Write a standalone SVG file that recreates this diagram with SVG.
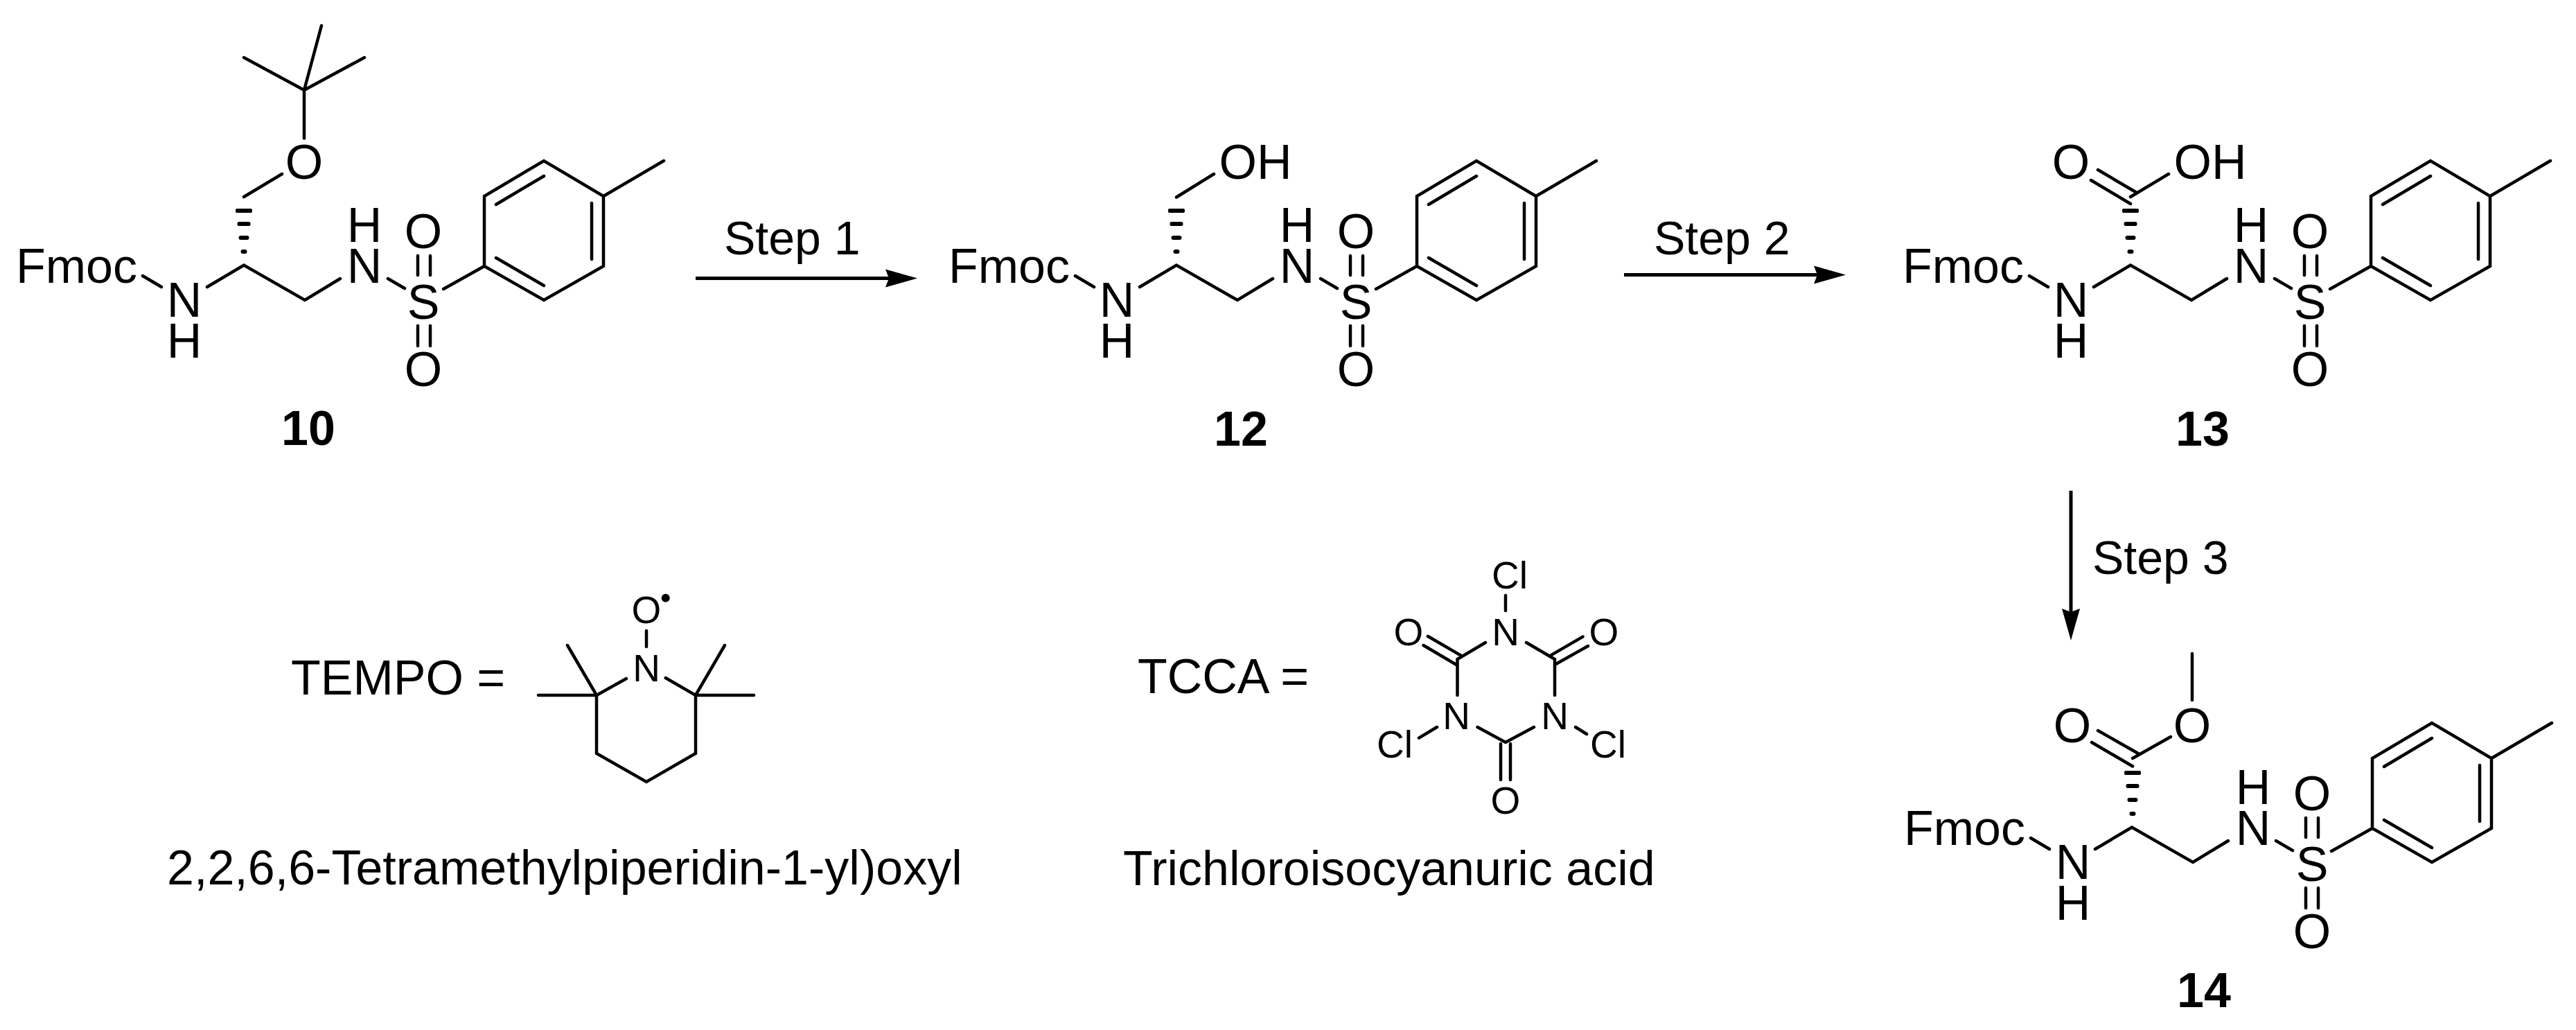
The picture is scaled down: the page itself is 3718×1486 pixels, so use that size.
<svg xmlns="http://www.w3.org/2000/svg" xmlns:xlink="http://www.w3.org/1999/xlink" width="3718" height="1486" viewBox="0 0 3718 1486">
<style>
text{font-family:"Liberation Sans",Arial,sans-serif;fill:#000;font-size:70px}
.m{text-anchor:middle}
.b{font-weight:bold;text-anchor:middle}
.s{font-size:55px}
.step{font-size:68px}
.bond{fill:none;stroke:#000;stroke-width:4.5;stroke-linejoin:miter;stroke-linecap:round}
.arrow{fill:none;stroke:#000;stroke-width:5;marker-end:url(#head)}
</style>
<defs>
<marker id="head" markerUnits="userSpaceOnUse" markerWidth="50" markerHeight="30" refX="5" refY="15" orient="auto"><path d="M46 15L0 2L5 15L0 28Z" fill="#000"/></marker>
<g id="hash" fill="#000"><rect x="-12" y="-81" width="24" height="6" rx="2"/><rect x="-9.500" y="-62" width="19" height="6" rx="2.500"/><rect x="-7.500" y="-42" width="15" height="6" rx="3"/><rect x="-4.500" y="-22" width="9" height="6" rx="3"/></g>
<path id="core" class="bond" d="M206 398L233 414M299 414L352 382.500L440 433L491 402M560 402L584 416M603 369V397M621 369V397M603 470V499M621 470V499M640 417L699 384M699 384V283L785 232L871 283V384L785 433ZM716 295L785 254M854 293V374M716 372L785 412M871 283L958 232"/>
</defs>
<rect width="3718" height="1486" fill="#fff"/>
<g id="connectors">
<line class="arrow" x1="1004" y1="401.500" x2="1283" y2="401.500"/>
<line class="arrow" x1="2344" y1="396.500" x2="2623" y2="396.500"/>
<line class="arrow" x1="2989" y1="708" x2="2989" y2="883"/>
<text class="step" x="1045" y="367">Step 1</text>
<text class="step" x="2387" y="367">Step 2</text>
<text class="step" x="3020" y="828">Step 3</text>
</g>
<g id="compound-10">
<use xlink:href="#core" href="#core"/>
<use xlink:href="#hash" href="#hash" x="352" y="382"/>
<path class="bond" d="M352 284L407 251M439 199.500V130M439 130L464 37M439 130L352 83M439 130L526 83"/>
<text x="23" y="408">Fmoc</text>
<text class="m" x="266" y="457">N</text><text class="m" x="266" y="516">H</text>
<text class="m" x="526" y="408">N</text><text class="m" x="526" y="349">H</text>
<text class="m" x="611" y="460">S</text>
<text class="m" x="611" y="358">O</text><text class="m" x="611" y="557">O</text>
<text class="m" x="439" y="258">O</text>
<text class="b" x="445" y="642">10</text>
</g>
<g id="compound-12">
<use xlink:href="#core" href="#core" x="1346"/>
<use xlink:href="#hash" href="#hash" x="1698" y="382"/>
<path class="bond" d="M1698 284.500L1752 251"/>
<text x="1369" y="408">Fmoc</text>
<text class="m" x="1612" y="457">N</text><text class="m" x="1612" y="516">H</text>
<text class="m" x="1872" y="408">N</text><text class="m" x="1872" y="349">H</text>
<text class="m" x="1957" y="460">S</text>
<text class="m" x="1957" y="358">O</text><text class="m" x="1957" y="557">O</text>
<text x="1759.500" y="258">OH</text>
<text class="b" x="1791" y="643">12</text>
</g>
<g id="compound-13">
<use xlink:href="#core" href="#core" x="2723"/>
<use xlink:href="#hash" href="#hash" x="3075" y="382"/>
<path class="bond" d="M3075 284L3130 251M3018 260L3075 294M3028 245L3084 278"/>
<text x="2746" y="408">Fmoc</text>
<text class="m" x="2989" y="457">N</text><text class="m" x="2989" y="516">H</text>
<text class="m" x="3249" y="408">N</text><text class="m" x="3249" y="349">H</text>
<text class="m" x="3334" y="460">S</text>
<text class="m" x="3334" y="358">O</text><text class="m" x="3334" y="557">O</text>
<text class="m" x="2989" y="258">O</text>
<text x="3137.500" y="258">OH</text>
<text class="b" x="3179" y="643">13</text>
</g>
<g id="compound-14">
<use xlink:href="#core" href="#core" x="2725" y="811"/>
<use xlink:href="#hash" href="#hash" x="3078" y="1193"/>
<path class="bond" d="M3078 1094L3133 1063M3019 1071L3078 1105.500M3028 1054L3086 1087M3164 1010V943"/>
<text x="2748" y="1219">Fmoc</text>
<text class="m" x="2992" y="1268">N</text><text class="m" x="2992" y="1327">H</text>
<text class="m" x="3252" y="1219">N</text><text class="m" x="3252" y="1160">H</text>
<text class="m" x="3337" y="1271">S</text>
<text class="m" x="3337" y="1169">O</text><text class="m" x="3337" y="1368">O</text>
<text class="m" x="2991" y="1071">O</text><text class="m" x="3164" y="1071">O</text>
<text class="b" x="3181" y="1453">14</text>
</g>
<g id="tempo">
<text x="420" y="1002">TEMPO =</text>
<path class="bond" d="M904 979L861 1003V1087L933 1128L1004 1087V1003L960.700 978M861 1003L819 931M861 1003H777M1004 1003L1046 931M1004 1003H1088M933 910V933"/>
<text class="m s" x="933" y="982.700">N</text>
<text class="m s" x="933" y="899">O</text>
<circle cx="960.700" cy="862.700" r="6" fill="#000"/>
<text x="241" y="1275.500">2,2,6,6-Tetramethylpiperidin-1-yl)oxyl</text>
</g>
<g id="tcca">
<text x="1642" y="1000">TCCA =</text>
<path class="bond" d="M2173 859V881M2144 927L2103.500 951V1003M2203 927L2244 951V1003M2132.500 1049L2173 1071L2214 1049M2074 1049L2048 1064.600M2274 1049L2290 1059M2054.500 931L2102 959M2061 918L2108.500 945.600M2292 932L2244 959M2284.500 918.600L2238 945.600M2166 1073V1125M2180 1073V1125"/>
<text class="m s" x="2173" y="930.500">N</text><text class="m s" x="2102" y="1052">N</text><text class="m s" x="2244" y="1052">N</text>
<text class="s" x="2153" y="848.500">Cl</text><text class="s" x="1987" y="1093">Cl</text><text class="s" x="2295" y="1093">Cl</text>
<text class="m s" x="2033" y="930.500">O</text><text class="m s" x="2315" y="930.500">O</text><text class="m s" x="2173" y="1174">O</text>
<text x="1621" y="1276.500">Trichloroisocyanuric acid</text>
</g>
</svg>
